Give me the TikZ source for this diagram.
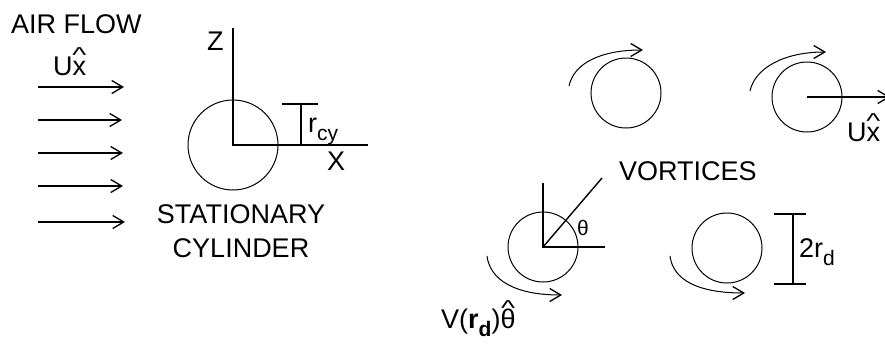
\documentclass[tikz,border=0pt]{standalone}
\usepackage{fontspec}
\usepackage{graphicx}
\setmainfont{Liberation Sans}
\usetikzlibrary{arrows.meta}
\newcommand{\lowsub}[1]{\raisebox{-8pt}{\fontsize{21}{21}\selectfont #1}}
\newcommand{\tallhat}[1]{\ooalign{#1\cr\hidewidth\raisebox{13pt}{\scalebox{1.1}[0.8]{\textasciicircum}}\hidewidth\cr}}
\tikzset{
  lbl/.style={inner sep=0pt, anchor=base west, font=\fontsize{27}{32}\selectfont},
  axis/.style={line width=1.4pt},
  ring/.style={line width=1pt},
  chev/.style={-{Straight Barb[length=11pt,width=13pt,line width=1.3pt]}, line width=1.3pt},
}
\begin{document}
\begin{tikzpicture}[x=1pt,y=-1pt]
  \useasboundingbox (0,0) rectangle (885,346);
  % air flow
  \node[lbl] (airflow) at (11,33) {AIR FLOW};
  \node[lbl] (uflow) at (53,75) {U\tallhat{x}};
  \foreach \y/\tip in {87/124,120/122,153/123,186/123,222/125}
    \draw[chev] (38,\y) -- (\tip,\y);
  % stationary cylinder
  \coordinate (c0) at (233,145);
  \draw[ring] (c0) circle[radius=45pt];
  \draw[axis] (233,28) -- (c0) -- (368,145);
  \draw[axis] (282,104) -- (318,104);
  \draw[axis] (301,104) -- (301,145);
  \node[lbl] (zlab) at (207,50) {Z};
  \node[lbl] (xlab) at (327,170) {X};
  \node[lbl] (rcy) at (308,132) {r\lowsub{cy}};
  \node[lbl, anchor=base] (stat) at (241,223) {STATIONARY};
  \node[lbl, anchor=base] (cyl) at (241,257) {CYLINDER};
  % vortices
  \coordinate (v1) at (626,93);
  \coordinate (v2) at (807,97);
  \coordinate (v3) at (543,247);
  \coordinate (v4) at (727,248);
  \foreach \v in {v1,v2,v3,v4}
    \draw[ring] (\v) circle[radius=35pt];
  \draw[chev, line width=1pt] (569,86) .. controls (574,63) and (601,50) .. (643,50);
  \draw[chev, line width=1pt] (750,91) .. controls (755,68) and (784,52) .. (826,52);
  \draw[chev, line width=1pt] (487,256) .. controls (490,280) and (515,295) .. (562,295);
  \draw[chev, line width=1pt] (670,256) .. controls (673,280) and (698,293) .. (745,293);
  \draw[chev] (v2) -- (890,97);
  \node[lbl] (uvort) at (847,141) {U\tallhat{x}};
  \node[lbl] (vort) at (619,180) {VORTICES};
  \draw[axis] (543,183) -- (v3) -- (605,247);
  \draw[axis] (v3) -- (602,178);
  \node[lbl, font=\fontsize{21}{21}\selectfont] (theta) at (577,235) {θ};
  \node[lbl] (vel) at (441,328) {V(\textbf{r}\lowsub{\textbf{d}})\tallhat{θ}};
  \draw[axis] (774,214) -- (806,214);
  \draw[axis] (774,284) -- (806,284);
  \draw[axis] (793,214) -- (793,284);
  \node[lbl] (twor) at (799,257) {2r\lowsub{d}};
\end{tikzpicture}
\end{document}
